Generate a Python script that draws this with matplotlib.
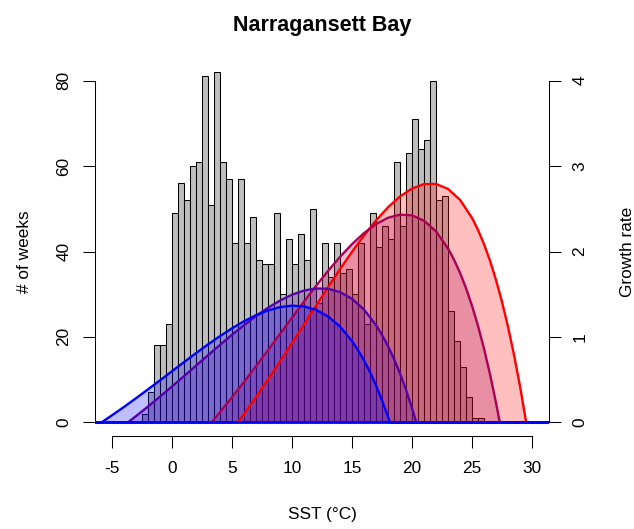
import numpy as np
import matplotlib
matplotlib.use("Agg")
import matplotlib.pyplot as plt

plt.rcParams['font.family'] = ['Liberation Sans', 'DejaVu Sans']
plt.rcParams['axes.unicode_minus'] = False

# weekly SST histogram, 0.5 degC bins starting at -2.5
bin_start = -2.5
bin_width = 0.5
week_counts = [2, 7, 18, 18, 23, 49, 56, 52, 60, 61,
               81, 51, 82, 61, 57, 42, 57, 42, 48, 38,
               37, 37, 49, 30, 43, 37, 44, 38, 50, 28,
               42, 34, 42, 35, 36, 30, 42, 23, 49, 41,
               46, 43, 61, 46, 63, 71, 64, 66, 80, 52,
               53, 26, 19, 13, 6, 1, 1]

# growth-rate curves (temperature, rate)
red_temp = [-10, 5.5, 6, 7, 8, 9, 10, 11, 12, 13, 14, 15, 16, 17, 18, 19, 20,
            21, 22, 23, 24, 25, 25.5, 26, 26.5, 27, 27.5, 28, 28.5, 29, 29.5, 35]
red_rate = [0, 0, 0.097, 0.295, 0.501, 0.712, 0.928, 1.146, 1.364, 1.581, 1.793,
            1.997, 2.188, 2.364, 2.518, 2.645, 2.737, 2.789, 2.790, 2.732, 2.603,
            2.391, 2.250, 2.082, 1.887, 1.661, 1.403, 1.111, 0.781, 0.412, 0, 0]

magenta_temp = [-10, 3.3, 4, 5, 6, 7, 8, 9, 10, 11, 12, 13, 14, 15, 16, 17, 18,
                19, 20, 21, 22, 23, 23.5, 24, 24.5, 25, 25.5, 26, 26.5, 27, 27.3, 35]
magenta_rate = [0, 0, 0.118, 0.292, 0.472, 0.657, 0.845, 1.035, 1.225, 1.413,
                1.597, 1.772, 1.937, 2.086, 2.216, 2.321, 2.395, 2.431, 2.423,
                2.360, 2.235, 2.034, 1.902, 1.747, 1.567, 1.360, 1.124, 0.856,
                0.556, 0.220, 0, 0]

violet_temp = [-10, -3.65, -3, -2, -1, 0, 1, 2, 3, 4, 5, 6, 7, 8, 9, 10, 11, 12,
               13, 14, 15, 16, 17, 17.5, 18, 18.5, 19, 19.5, 20, 20.35, 35]
violet_rate = [0, 0, 0.071, 0.183, 0.299, 0.418, 0.539, 0.662, 0.784, 0.906,
               1.024, 1.137, 1.244, 1.341, 1.425, 1.494, 1.543, 1.567, 1.564,
               1.525, 1.446, 1.320, 1.138, 1.023, 0.891, 0.741, 0.570, 0.379,
               0.164, 0, 0]

blue_temp = [-10, -5.85, -5, -4, -3, -2, -1, 0, 1, 2, 3, 4, 5, 6, 7, 8, 9, 10,
             11, 12, 13, 14, 15, 15.5, 16, 16.5, 17, 17.5, 18, 18.15, 35]
blue_rate = [0, 0, 0.081, 0.179, 0.281, 0.385, 0.490, 0.597, 0.704, 0.809,
             0.911, 1.009, 1.100, 1.183, 1.254, 1.310, 1.349, 1.366, 1.357,
             1.317, 1.240, 1.121, 0.952, 0.846, 0.725, 0.588, 0.432, 0.258,
             0.063, 0, 0]

curves = [(red_temp, red_rate, '#FF0000'),
          (magenta_temp, magenta_rate, '#AA0055'),
          (violet_temp, violet_rate, '#5500AA'),
          (blue_temp, blue_rate, '#0000FF')]

fig = plt.figure(figsize=(6.34, 5.29), dpi=100)
ax = fig.add_axes([95 / 634, 93 / 529, 454 / 634, 369 / 529])

edges = bin_start + bin_width * np.arange(len(week_counts))
ax.bar(edges, week_counts, width=bin_width, align='edge', color='#BEBEBE',
       edgecolor='black', linewidth=0.75)
ax.set_xlim(-6.4, 31.4)
ax.set_ylim(-3.2, 83.2)
ax.set_xticks([-5, 0, 5, 10, 15, 20, 25, 30])
ax.set_yticks([0, 20, 40, 60, 80])
for s in ['top', 'right']:
    ax.spines[s].set_visible(False)
ax.spines['bottom'].set_bounds(-5, 30)
ax.spines['left'].set_bounds(0, 80)
for s in ['bottom', 'left']:
    ax.spines[s].set_linewidth(0.75)
ax.tick_params(axis='x', length=8.4, width=0.75, pad=9.5, labelsize=12.4)
ax.tick_params(axis='y', length=8.4, width=0.75, pad=8.5, labelsize=12.4,
               labelrotation=90)
for lab in ax.get_yticklabels():
    lab.set_va('center')

ax.set_xlabel('SST (°C)', fontsize=12.4)
ax.xaxis.set_label_coords(322 / 634, 1 - 507 / 529, transform=fig.transFigure)
ax.set_ylabel('# of weeks', fontsize=12.4)
ax.yaxis.set_label_coords(25 / 634, 1 - 251.5 / 529, transform=fig.transFigure)
ax.yaxis.label.set_va('center')
ax.set_title('Narragansett Bay', fontsize=15.5, fontweight='bold', pad=26)

ax2 = ax.twinx()
for temp, rate, col in curves:
    ax2.fill_between(temp, 0, rate, color=col, alpha=0.25, linewidth=0)
    # closed outline, like a polygon border (includes the zero baseline)
    ax2.plot(list(temp) + [temp[-1], temp[0], temp[0]],
             list(rate) + [0, 0, rate[0]], color=col, linewidth=1.7)
ax2.set_ylim(-0.16, 4.16)
ax2.set_yticks([0, 1, 2, 3, 4])
for s in ['top', 'left', 'bottom']:
    ax2.spines[s].set_visible(False)
ax2.spines['right'].set_bounds(0, 4)
ax2.spines['right'].set_linewidth(0.75)
ax2.tick_params(axis='y', length=8.4, width=0.75, pad=8.3, labelsize=12.4,
                labelrotation=90)
for lab in ax2.get_yticklabels():
    lab.set_va('center')
ax2.set_ylabel('Growth rate', fontsize=12.4)
ax2.yaxis.set_label_coords(627 / 634, 1 - 251.5 / 529, transform=fig.transFigure)
ax2.yaxis.label.set_va('center')

fig.savefig('out.png', dpi=100)
